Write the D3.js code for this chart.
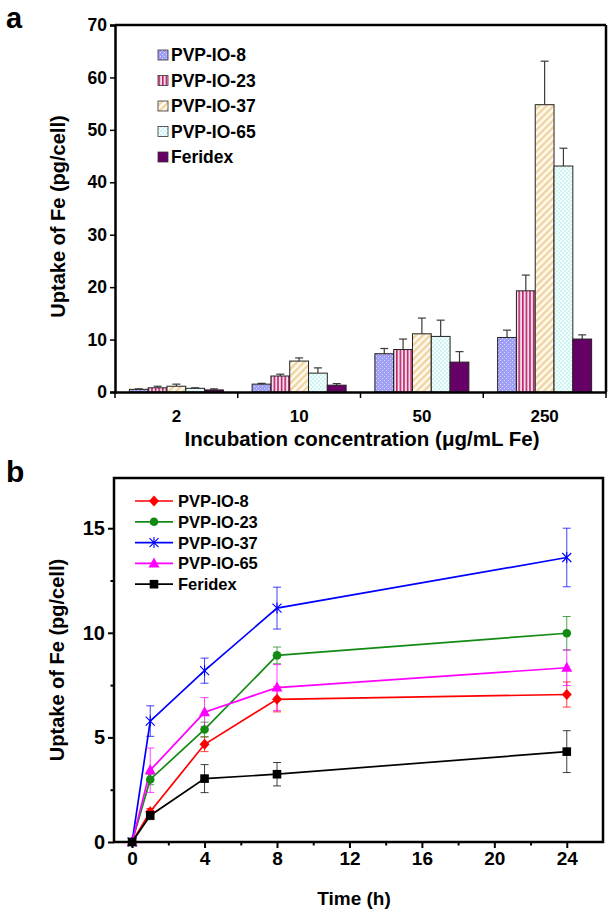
<!DOCTYPE html>
<html>
<head>
<meta charset="utf-8">
<script src="https://cdn.jsdelivr.net/npm/d3@7/dist/d3.min.js"></script>
<style>
  html, body { margin: 0; padding: 0; background: #fff; }
  svg { display: block; font-family: "Liberation Sans", Arial, sans-serif; font-weight: bold; }
</style>
</head>
<body>
<svg id="chart" width="615" height="915"></svg>
<script>
// ---------- Panel a data ----------
const concentrations = ["2", "10", "50", "250"];
const barSeries = ["PVP-IO-8", "PVP-IO-23", "PVP-IO-37", "PVP-IO-65", "Feridex"];
const barValues = [
  [0.5, 1.5, 7.3, 10.4],   // PVP-IO-8
  [0.8, 3.05, 8.1, 19.3],  // PVP-IO-23
  [1.1, 5.9, 11.1, 54.8],  // PVP-IO-37
  [0.7, 3.6, 10.6, 43.1],  // PVP-IO-65
  [0.4, 1.3, 5.7, 10.1]    // Feridex
];
const barErrors = [
  [0.1, 0.15, 1.0, 1.4],
  [0.3, 0.35, 2.0, 3.0],
  [0.4, 0.6, 3.0, 8.3],
  [0.1, 1.0, 3.1, 3.4],
  [0.2, 0.3, 2.0, 0.8]
];
const barYTicks = [0, 10, 20, 30, 40, 50, 60, 70];

// ---------- Panel b data ----------
const times = [0, 1, 4, 8, 24];
const lineSeries = ["PVP-IO-8", "PVP-IO-23", "PVP-IO-37", "PVP-IO-65", "Feridex"];
const lineValues = [
  [0, 1.45, 4.67, 6.82, 7.05],   // PVP-IO-8
  [0, 2.99, 5.38, 8.92, 9.98],   // PVP-IO-23
  [0, 5.78, 8.19, 11.18, 13.6],  // PVP-IO-37
  [0, 3.43, 6.2, 7.38, 8.33],    // PVP-IO-65
  [0, 1.27, 3.03, 3.24, 4.32]    // Feridex
];
const lineErrors = [
  [0, 0.15, 0.35, 0.6, 0.6],
  [0, 0.25, 0.35, 0.4, 0.8],
  [0, 0.73, 0.6, 1.0, 1.4],
  [0, 1.06, 0.7, 1.1, 0.85],
  [0, 0.2, 0.67, 0.56, 1.0]
];
const timeTicks = [0, 4, 8, 12, 16, 20, 24];
const timeMinorTicks = [2, 6, 10, 14, 18, 22];
const lineYTicks = [0, 5, 10, 15];
const lineYMinorTicks = [2.5, 7.5, 12.5];

const FONT = "Liberation Sans, Arial, sans-serif";
const svg = d3.select("#chart");
const defs = svg.append("defs");

// ---------- Patterns for bars ----------
const p8 = defs.append("pattern").attr("id", "pat0").attr("patternUnits", "userSpaceOnUse")
  .attr("width", 4).attr("height", 4);
p8.append("rect").attr("width", 4).attr("height", 4).attr("fill", "#a09ff3");
p8.append("rect").attr("x", 0).attr("y", 0).attr("width", 1).attr("height", 1).attr("fill", "#d8d8ff");
p8.append("rect").attr("x", 2).attr("y", 2).attr("width", 1).attr("height", 1).attr("fill", "#d8d8ff");

const p23 = defs.append("pattern").attr("id", "pat1").attr("patternUnits", "userSpaceOnUse")
  .attr("width", 3.6).attr("height", 4);
p23.append("rect").attr("width", 3.6).attr("height", 4).attr("fill", "#f6dcea");
p23.append("rect").attr("x", 0).attr("width", 1.6).attr("height", 4).attr("fill", "#b9266c");

const p37 = defs.append("pattern").attr("id", "pat2").attr("patternUnits", "userSpaceOnUse")
  .attr("width", 5).attr("height", 5).attr("patternTransform", "rotate(45)");
p37.append("rect").attr("width", 5).attr("height", 5).attr("fill", "#fffaf0");
p37.append("rect").attr("width", 2.4).attr("height", 5).attr("fill", "#efd3a0");

const p65 = defs.append("pattern").attr("id", "pat3").attr("patternUnits", "userSpaceOnUse")
  .attr("width", 4).attr("height", 4);
p65.append("rect").attr("width", 4).attr("height", 4).attr("fill", "#d3f3f3");
p65.append("rect").attr("x", 0).attr("y", 0).attr("width", 2).attr("height", 2).attr("fill", "#f2ffff");
p65.append("rect").attr("x", 2).attr("y", 2).attr("width", 2).attr("height", 2).attr("fill", "#f2ffff");

const barFills = ["url(#pat0)", "url(#pat1)", "url(#pat2)", "url(#pat3)", "#660066"];

// ================= Panel a =================
const A = { left: 115, right: 606, top: 25, bottom: 392 };
const ax = d3.scaleBand().domain(concentrations).range([A.left, A.right]).padding(0);
const barGroupWidth = 94;
const axSub = d3.scaleBand().domain(barSeries)
  .range([(ax.bandwidth() - barGroupWidth) / 2, (ax.bandwidth() + barGroupWidth) / 2]).padding(0);
const ay = d3.scaleLinear().domain([0, 70]).range([A.bottom, A.top]);

const ga = svg.append("g");

barSeries.forEach((s, si) => {
  const g = ga.append("g");
  concentrations.forEach((c, ci) => {
    const v = barValues[si][ci], e = barErrors[si][ci];
    const x0 = ax(c) + axSub(s);
    const w = axSub.bandwidth();
    const xm = x0 + w / 2;
    g.append("line").attr("x1", xm).attr("x2", xm).attr("y1", ay(v)).attr("y2", ay(v + e))
      .attr("stroke", "#3a3a3a").attr("stroke-width", 1.2);
    g.append("line").attr("x1", xm - 4).attr("x2", xm + 4).attr("y1", ay(v + e)).attr("y2", ay(v + e))
      .attr("stroke", "#3a3a3a").attr("stroke-width", 1.2);
    g.append("rect").attr("x", x0).attr("y", ay(v)).attr("width", w).attr("height", ay(0) - ay(v))
      .attr("fill", barFills[si]).attr("stroke", "#222").attr("stroke-width", 1);
  });
});

const ayAxis = d3.axisLeft(ay).tickValues(barYTicks).tickSize(5).tickPadding(3).tickFormat(d3.format("d"));
const gAy = ga.append("g").attr("transform", `translate(${A.left},0)`).call(ayAxis);
gAy.select(".domain").attr("stroke-width", 2.5);
gAy.selectAll(".tick line").attr("stroke-width", 1.5);
gAy.selectAll(".tick text").attr("font-size", 17.5).attr("font-weight", "bold")
  .attr("font-family", FONT).attr("fill", "#000");

const axAxis = d3.axisBottom(ax).tickSize(0).tickPadding(18);
const gAx = ga.append("g").attr("transform", `translate(0,${A.bottom})`).call(axAxis);
gAx.select(".domain").attr("stroke-width", 2.5);
gAx.selectAll(".tick text").attr("font-size", 17).attr("font-weight", "bold")
  .attr("font-family", FONT).attr("fill", "#000");
const boundaries = concentrations.map(c => ax(c)).concat([A.right]);
ga.selectAll(".bt").data(boundaries).enter().append("line")
  .attr("x1", d => d).attr("x2", d => d).attr("y1", A.bottom).attr("y2", A.bottom + 6)
  .attr("stroke", "#000").attr("stroke-width", 1.5);
ga.append("line").attr("x1", A.left).attr("x2", A.right).attr("y1", A.top).attr("y2", A.top)
  .attr("stroke", "#000").attr("stroke-width", 2.5);
ga.append("line").attr("x1", A.right).attr("x2", A.right).attr("y1", A.top).attr("y2", A.bottom)
  .attr("stroke", "#000").attr("stroke-width", 2.5);

ga.append("text").attr("transform", `translate(65,${(A.top + A.bottom) / 2 + 8}) rotate(-90)`)
  .attr("text-anchor", "middle").attr("font-size", 20).text("Uptake of Fe (pg/cell)");
ga.append("text").attr("x", 362).attr("y", 446).attr("text-anchor", "middle").attr("font-size", 20.5)
  .text("Incubation concentration (\u03bcg/mL Fe)");
ga.append("text").attr("x", 6).attr("y", 28).attr("font-size", 29).text("a");

const legA = ga.append("g");
barSeries.forEach((s, si) => {
  const y = 55 + si * 25.5;
  legA.append("rect").attr("x", 158).attr("y", y - 5).attr("width", 10).attr("height", 10)
    .attr("fill", barFills[si]).attr("stroke", "#333").attr("stroke-width", 0.8);
  legA.append("text").attr("x", 171).attr("y", y + 6).attr("font-size", 17.5).text(s);
});

// ================= Panel b =================
const B = { left: 114, right: 603, top: 478, bottom: 842 };
const bx = d3.scaleLinear().domain([-1, 26]).range([B.left, B.right]);
const by = d3.scaleLinear().domain([0, 17.4]).range([B.bottom, B.top]);
const gb = svg.append("g");

const lineColors = ["#ff0000", "#138a13", "#0000ff", "#ff00ff", "#000000"];
const markerTypes = ["diamond", "circle", "star", "triangle", "square"];

function drawMarker(g, type, x, y, color) {
  if (type === "diamond") {
    g.append("path").attr("d", `M${x},${y - 5.5}L${x + 5},${y}L${x},${y + 5.5}L${x - 5},${y}Z`).attr("fill", color);
  } else if (type === "circle") {
    g.append("circle").attr("cx", x).attr("cy", y).attr("r", 4.3).attr("fill", color);
  } else if (type === "star") {
    const r = 4.5;
    g.append("path").attr("d",
      `M${x - r},${y - r}L${x + r},${y + r}M${x - r},${y + r}L${x + r},${y - r}M${x},${y - r - 1}L${x},${y + r + 1}`)
      .attr("stroke", color).attr("stroke-width", 1.1).attr("fill", "none");
  } else if (type === "triangle") {
    g.append("path").attr("d", `M${x},${y - 6}L${x + 5.5},${y + 4}L${x - 5.5},${y + 4}Z`).attr("fill", color);
  } else if (type === "square") {
    g.append("rect").attr("x", x - 4.3).attr("y", y - 4.3).attr("width", 8.6).attr("height", 8.6).attr("fill", color);
  }
}

const lineGen = d3.line().x(d => bx(d[0])).y(d => by(d[1]));

lineSeries.forEach((s, si) => {
  const g = gb.append("g");
  const pts = times.map((t, i) => [t, lineValues[si][i], lineErrors[si][i]]);
  g.append("path").datum(pts).attr("d", lineGen).attr("fill", "none")
    .attr("stroke", lineColors[si]).attr("stroke-width", 1.7);
  pts.forEach(p => {
    if (p[2] > 0) {
      const xm = bx(p[0]);
      const y1 = by(p[1] - p[2]), y2 = by(p[1] + p[2]);
      g.append("line").attr("x1", xm).attr("x2", xm).attr("y1", y1).attr("y2", y2)
        .attr("stroke", lineColors[si]).attr("stroke-width", 1).attr("opacity", 0.75);
      [y1, y2].forEach(yy => g.append("line").attr("x1", xm - 4).attr("x2", xm + 4).attr("y1", yy).attr("y2", yy)
        .attr("stroke", lineColors[si]).attr("stroke-width", 1).attr("opacity", 0.75));
    }
  });
});
lineSeries.forEach((s, si) => {
  const g = gb.append("g");
  times.forEach((t, i) => drawMarker(g, markerTypes[si], bx(t), by(lineValues[si][i]), lineColors[si]));
});

const byAxis = d3.axisLeft(by).tickValues(lineYTicks).tickSize(6).tickPadding(3).tickFormat(d3.format("d"));
const gBy = gb.append("g").attr("transform", `translate(${B.left},0)`).call(byAxis);
gBy.select(".domain").remove();
gBy.selectAll(".tick line").attr("stroke-width", 2);
gBy.selectAll(".tick text").attr("font-size", 20).attr("font-weight", "bold")
  .attr("font-family", FONT).attr("fill", "#000");
const byMinor = d3.axisLeft(by).tickValues(lineYMinorTicks).tickSize(3.5).tickFormat("");
const gByM = gb.append("g").attr("transform", `translate(${B.left},0)`).call(byMinor);
gByM.select(".domain").remove();
gByM.selectAll(".tick line").attr("stroke-width", 2);

const bxAxis = d3.axisBottom(bx).tickValues(timeTicks).tickSize(6).tickPadding(4).tickFormat(d3.format("d"));
const gBx = gb.append("g").attr("transform", `translate(0,${B.bottom})`).call(bxAxis);
gBx.select(".domain").remove();
gBx.selectAll(".tick line").attr("stroke-width", 2);
gBx.selectAll(".tick text").attr("font-size", 19).attr("font-weight", "bold")
  .attr("font-family", FONT).attr("fill", "#000");
const bxMinor = d3.axisBottom(bx).tickValues(timeMinorTicks).tickSize(3.5).tickFormat("");
const gBxM = gb.append("g").attr("transform", `translate(0,${B.bottom})`).call(bxMinor);
gBxM.select(".domain").remove();
gBxM.selectAll(".tick line").attr("stroke-width", 2);

gb.append("rect").attr("x", B.left).attr("y", B.top).attr("width", B.right - B.left).attr("height", B.bottom - B.top)
  .attr("fill", "none").attr("stroke", "#000").attr("stroke-width", 2.5);

gb.append("text").attr("transform", `translate(64,${(B.top + B.bottom) / 2}) rotate(-90)`)
  .attr("text-anchor", "middle").attr("font-size", 20).text("Uptake of Fe (pg/cell)");
gb.append("text").attr("x", 354).attr("y", 905).attr("text-anchor", "middle").attr("font-size", 19)
  .text("Time (h)");
gb.append("text").attr("x", 6).attr("y", 482).attr("font-size", 30).text("b");

const legB = gb.append("g");
lineSeries.forEach((s, si) => {
  const y = 501 + si * 20.8;
  legB.append("line").attr("x1", 135).attr("x2", 173).attr("y1", y).attr("y2", y)
    .attr("stroke", lineColors[si]).attr("stroke-width", 1.7);
  drawMarker(legB, markerTypes[si], 154, y, lineColors[si]);
  legB.append("text").attr("x", 178).attr("y", y + 6).attr("font-size", 16.5).text(s);
});
</script>
</body>
</html>
